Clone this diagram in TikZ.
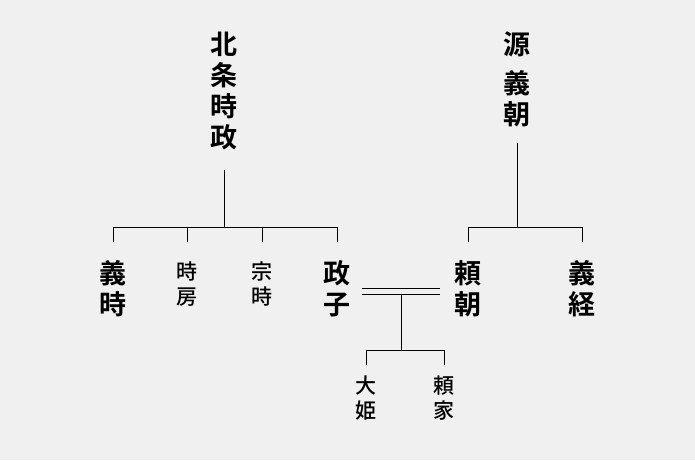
\documentclass[tikz,border=0pt]{standalone}
\usepackage{fontspec}
\newfontfamily\jpb{Noto Sans CJK JP Bold}
\newfontfamily\jpm{Noto Sans CJK JP Medium}
\usetikzlibrary{positioning}
\tikzset{big name/.style={anchor=north,align=center,inner sep=0pt,font=\jpb\fontsize{27}{31}\selectfont},
small name/.style={anchor=north,align=center,inner sep=0pt,font=\jpm\fontsize{21}{25}\selectfont},
tree line/.style={draw,line width=0.8pt},
}
\begin{document}
\begin{tikzpicture}[x=1pt,y=-1pt]
\fill[gray!12] (0,0) rectangle (695,460);
\useasboundingbox (0,0) rectangle (695,460);
% parents
\node[big name] (hojo) at (224,32) {北\\条\\時\\政};
\node[big name] (yoshitomo) at (517,32) {源\\[8pt]義\\朝};
\coordinate (hojo bot) at (224,170);
\coordinate (yt bot) at (517,143);
% Hojo children
\node[big name] (yoshitoki) at (113,260) {義\\時};
\node[small name] (tokifusa) at (187,262) {時\\房};
\node[small name] (munetoki) at (262,262) {宗\\時};
\node[big name] (masako) at (337,260) {政\\子};
% Minamoto children
\node[big name] (yoritomo) at (468,260) {頼\\朝};
\node[big name] (yoshitsune) at (582,260) {義\\経};
% grandchildren
\node[small name] (ohime) at (366,376) {大\\姫};
\node[small name] (yoriie) at (444,376) {頼\\家};

\path[tree line]
(hojo bot) -- (224,227)
(113,242) -- (113,227) -- (337,227) -- (337,242)
(187,227) -- (187,242)
(262,227) -- (262,242)
(yt bot) -- (517,227)
(468,242) -- (468,227) -- (582,227) -- (582,242)
(362,288) -- (440,288)
(362,294) -- (440,294)
(401,294) -- (401,350)
(366,365) -- (366,350) -- (444,350) -- (444,365)
;
\end{tikzpicture}
\end{document}
